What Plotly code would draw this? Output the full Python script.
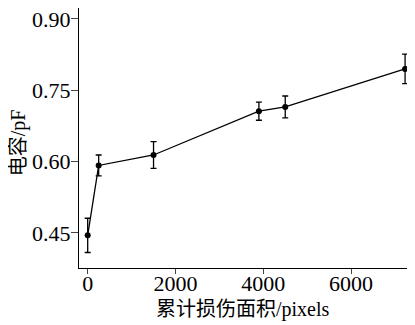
import plotly.graph_objects as go

area = [0, 250, 1500, 3900, 4500, 7230]
capacitance = [0.445, 0.592, 0.614, 0.706, 0.715, 0.795]
err = [0.036, 0.022, 0.028, 0.019, 0.023, 0.031]
xticks = [0, 2000, 4000, 6000]
yticks = [0.45, 0.60, 0.75, 0.90]
yticklabels = ["0.45", "0.60", "0.75", "0.90"]
xtitle = "累计损伤面积/pixels"
ytitle = "电容/pF"

font_family = "Liberation Serif, Times New Roman, Noto Sans CJK SC, serif"

fig = go.Figure(go.Scatter(
    x=area, y=capacitance, mode="lines+markers", cliponaxis=False,
    line=dict(color="black", width=1.3),
    marker=dict(color="black", size=6),
    error_y=dict(type="data", array=err, visible=True, color="black", thickness=1.3, width=3),
))

fig.update_layout(
    width=407, height=317,
    margin=dict(l=71, r=0, t=0, b=57),
    plot_bgcolor="white", paper_bgcolor="white",
    showlegend=False,
    font=dict(family=font_family, color="black", size=22),
)
fig.update_xaxes(
    range=[-198, 7456], tickvals=xticks, ticks="outside", ticklen=5, tickwidth=1.3,
    showline=True, linecolor="black", linewidth=1.3, showgrid=False, zeroline=False,
    tickfont=dict(size=22, family=font_family), automargin=False,
    ticklabelstandoff=-10, ticklabeloverflow="allow",
)
fig.update_yaxes(
    range=[0.3764, 0.923], tickvals=yticks, ticktext=yticklabels, ticks="outside", ticklen=7, tickwidth=1.3,
    showline=True, linecolor="black", linewidth=1.3, showgrid=False, zeroline=False,
    tickfont=dict(size=22, family=font_family), automargin=False,
    ticklabelstandoff=-4, ticklabeloverflow="allow",
)
fig.add_annotation(text=xtitle, xref="paper", yref="paper", x=0.488, y=-0.158,
                   xanchor="center", yanchor="middle", showarrow=False,
                   font=dict(size=20, family=font_family))
fig.add_annotation(text=ytitle, xref="paper", yref="paper", x=-0.1815, y=0.48,
                   xanchor="center", yanchor="middle", showarrow=False, textangle=-90,
                   font=dict(size=20, family=font_family))
fig.write_html("out.html")
